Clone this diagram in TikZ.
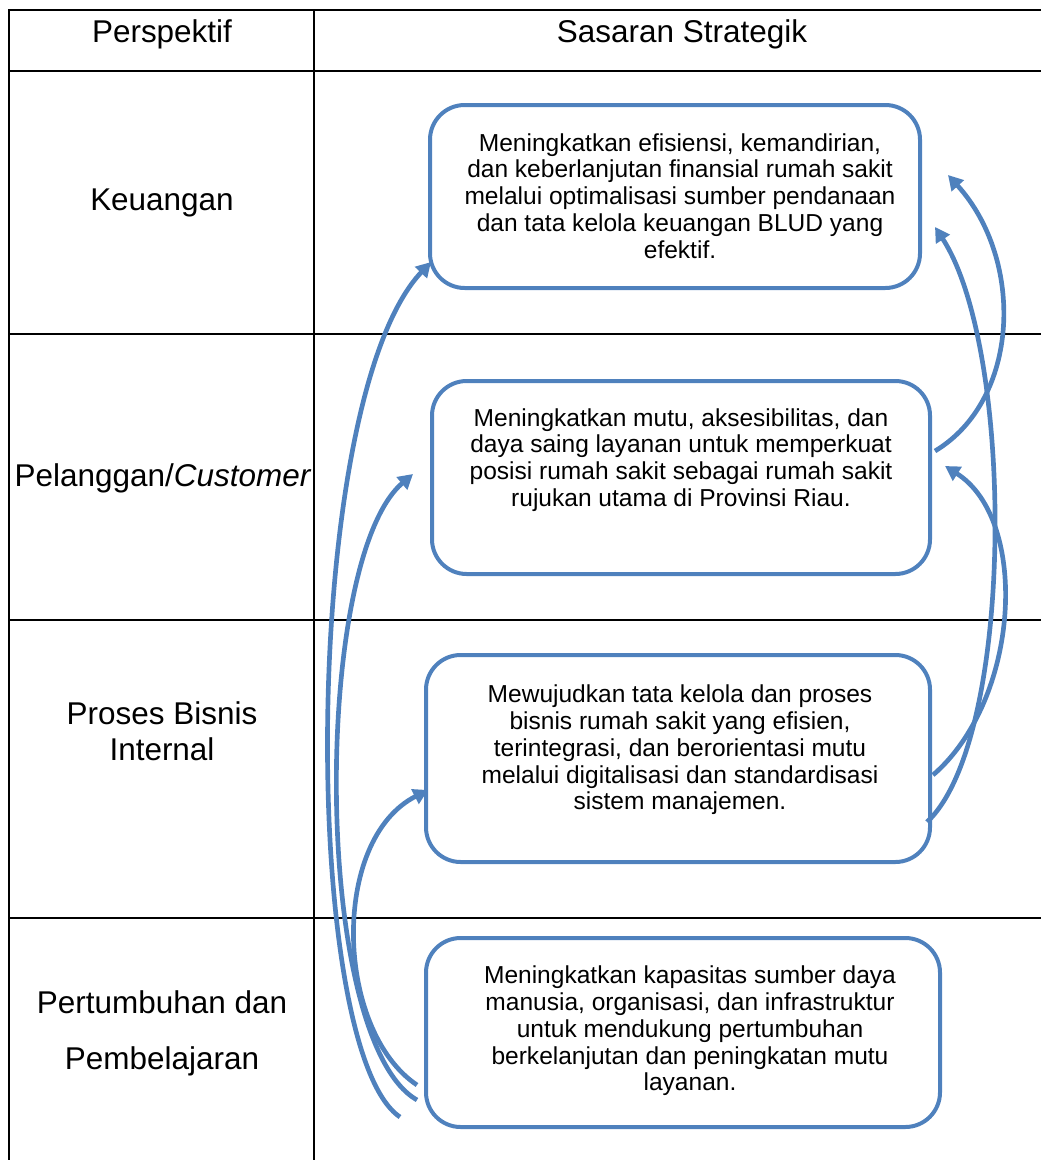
\documentclass[tikz,border=0pt]{standalone}
\usepackage{fontspec}
\setmainfont{Liberation Sans}
\usetikzlibrary{arrows.meta}
\definecolor{ob}{HTML}{4F81BD}
\begin{document}
\begin{tikzpicture}[x=0.75pt,y=-0.75pt,
  grid/.style={line width=1.5pt, black},
  sbox/.style={draw=ob, line width=3pt, rounded corners=26pt, inner sep=0pt},
  btext/.style={align=center, font=\fontsize{18.4}{20.1}\selectfont, inner sep=0pt},
  lbl/.style={align=center, font=\fontsize{23.6}{27}\selectfont, inner sep=0pt},
  link/.style={draw=ob, line width=3.5pt, -{Triangle[length=11pt,width=12pt]}}]
\useasboundingbox (0,0) rectangle (1041,1160);
% table
\draw[grid] (9,1160) -- (9,10) -- (1041,10);
\draw[grid] (314,10) -- (314,1160);
\draw[grid] (9,71) -- (1041,71);
\draw[grid] (9,334) -- (1041,334);
\draw[grid] (9,620) -- (1041,620);
\draw[grid] (9,918) -- (1041,918);
% headers
\node[lbl] (h1) at (162,34) {Perspektif};
\node[lbl] (h2) at (682,34) {Sasaran Strategik};
% row labels
\node[lbl] (r1) at (162,203) {Keuangan};
\node[lbl] (r2) at (163,478) {Pelanggan/\textit{Customer}};
\node[lbl] (r3) at (162,731) {Proses Bisnis\\Internal};
\node[lbl] (r4) at (162,1033) {Pertumbuhan dan\\[15pt]Pembelajaran};
% boxes
\node[sbox, minimum width=367.5pt, minimum height=137.25pt] (b1) at (675,196.5) {};
\node[sbox, minimum width=373.5pt, minimum height=144.75pt] (b2) at (681,477.5) {};
\node[sbox, minimum width=378pt, minimum height=155.25pt] (b3) at (678,758.5) {};
\node[sbox, minimum width=385.5pt, minimum height=141.75pt] (b4) at (683,1032.5) {};
% texts
\node[btext] (t1) at (680,196) {Meningkatkan efisiensi, kemandirian,\\dan keberlanjutan finansial rumah sakit\\melalui optimalisasi sumber pendanaan\\dan tata kelola keuangan BLUD yang\\efektif.};
\node[btext] (t2) at (681,460) {Meningkatkan mutu, aksesibilitas, dan\\daya saing layanan untuk memperkuat\\posisi rumah sakit sebagai rumah sakit\\rujukan utama di Provinsi Riau.};
\node[btext] (t3) at (680,750) {Mewujudkan tata kelola dan proses\\bisnis rumah sakit yang efisien,\\terintegrasi, dan berorientasi mutu\\melalui digitalisasi dan standardisasi\\sistem manajemen.};
\node[btext] (t4) at (690,1031) {Meningkatkan kapasitas sumber daya\\manusia, organisasi, dan infrastruktur\\untuk mendukung pertumbuhan\\berkelanjutan dan peningkatan mutu\\layanan.};
% connector end points
\coordinate (s1) at (400,1117);
\coordinate (e1) at (431,262);
\coordinate (s2) at (417,1100);
\coordinate (e2) at (413,474);
\coordinate (s3) at (417,1085);
\coordinate (e3) at (428,790);
\coordinate (sa) at (935,451);
\coordinate (ea) at (948,175);
\coordinate (sb) at (927,822);
\coordinate (eb) at (935,227);
\coordinate (sc) at (933,775);
\coordinate (ec) at (945,466);
% left arrows
\draw[link] (s1) .. controls (300,1050) and (300,400) .. (e1);
\draw[link] (s2) .. controls (312,1040) and (312,560) .. (e2);
\draw[link] (s3) .. controls (335,1030) and (330,840) .. (e3);
% right arrows
\draw[link] (sa) .. controls (1020,400) and (1025,260) .. (ea);
\draw[link] (sb) .. controls (1015,740) and (1015,350) .. (eb);
\draw[link] (sc) .. controls (1020,700) and (1030,520) .. (ec);
\end{tikzpicture}
\end{document}
